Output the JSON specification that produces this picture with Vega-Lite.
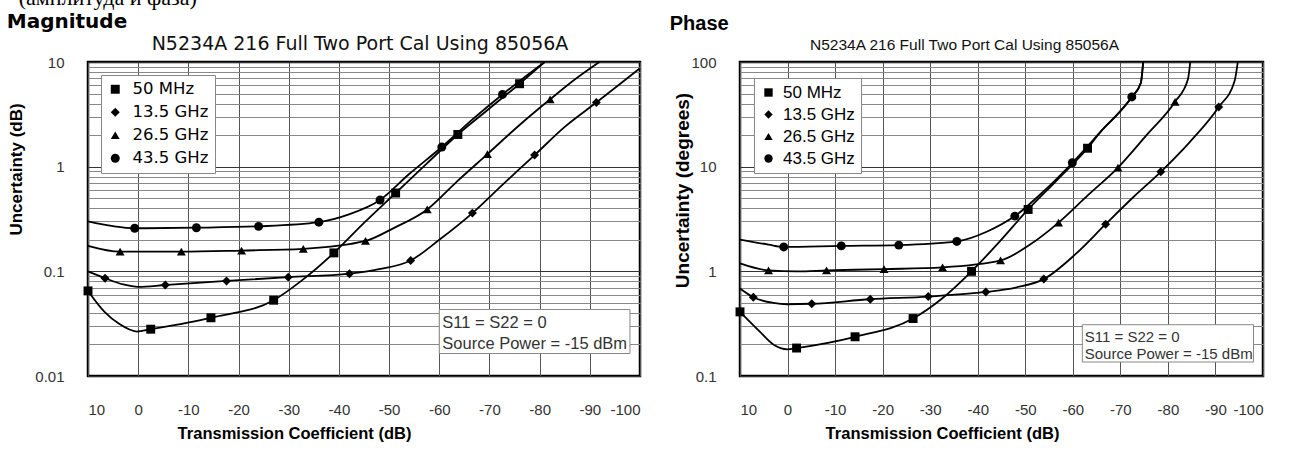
{
  "$schema": "https://vega.github.io/schema/vega-lite/v6.json",
  "background": "white",
  "padding": {"left": 5, "top": -14, "right": 5, "bottom": 5},
  "title": {"text": "(амплитуда и фаза)", "anchor": "start", "font": "Liberation Serif", "fontSize": 22, "fontWeight": "normal", "color": "black", "offset": 2, "dx": 13},
  "config": {
    "view": {"stroke": "black", "strokeWidth": 2.5},
    "font": "Liberation Sans",
    "legend": {"title": null}
  },
  "datasets": {
    "mag": [
      {"series": "50 MHz", "tc": 10, "u": 0.065, "m": 1},
      {"series": "50 MHz", "tc": 6.7, "u": 0.041, "m": 0},
      {"series": "50 MHz", "tc": 3.8, "u": 0.0315, "m": 0},
      {"series": "50 MHz", "tc": 0.3, "u": 0.0266, "m": 0},
      {"series": "50 MHz", "tc": -2.5, "u": 0.028, "m": 1},
      {"series": "50 MHz", "tc": -14.5, "u": 0.036, "m": 1},
      {"series": "50 MHz", "tc": -27, "u": 0.053, "m": 1},
      {"series": "50 MHz", "tc": -32.5, "u": 0.081, "m": 0},
      {"series": "50 MHz", "tc": -39, "u": 0.15, "m": 1},
      {"series": "50 MHz", "tc": -45, "u": 0.29, "m": 0},
      {"series": "50 MHz", "tc": -51.3, "u": 0.56, "m": 1},
      {"series": "50 MHz", "tc": -57.5, "u": 1.07, "m": 0},
      {"series": "50 MHz", "tc": -63.7, "u": 2.03, "m": 1},
      {"series": "50 MHz", "tc": -70, "u": 3.6, "m": 0},
      {"series": "50 MHz", "tc": -76, "u": 6.2, "m": 1},
      {"series": "50 MHz", "tc": -81, "u": 10, "m": 0},
      {"series": "13.5 GHz", "tc": 10, "u": 0.1, "m": 0},
      {"series": "13.5 GHz", "tc": 6.6, "u": 0.086, "m": 1},
      {"series": "13.5 GHz", "tc": 3, "u": 0.075, "m": 0},
      {"series": "13.5 GHz", "tc": 0, "u": 0.071, "m": 0},
      {"series": "13.5 GHz", "tc": -5.4, "u": 0.074, "m": 1},
      {"series": "13.5 GHz", "tc": -17.6, "u": 0.081, "m": 1},
      {"series": "13.5 GHz", "tc": -29.9, "u": 0.088, "m": 1},
      {"series": "13.5 GHz", "tc": -42.1, "u": 0.095, "m": 1},
      {"series": "13.5 GHz", "tc": -48, "u": 0.105, "m": 0},
      {"series": "13.5 GHz", "tc": -54.3, "u": 0.127, "m": 1},
      {"series": "13.5 GHz", "tc": -60, "u": 0.2, "m": 0},
      {"series": "13.5 GHz", "tc": -66.6, "u": 0.36, "m": 1},
      {"series": "13.5 GHz", "tc": -73, "u": 0.7, "m": 0},
      {"series": "13.5 GHz", "tc": -79, "u": 1.29, "m": 1},
      {"series": "13.5 GHz", "tc": -85, "u": 2.4, "m": 0},
      {"series": "13.5 GHz", "tc": -91.3, "u": 4.1, "m": 1},
      {"series": "13.5 GHz", "tc": -100, "u": 8.7, "m": 0},
      {"series": "26.5 GHz", "tc": 10, "u": 0.175, "m": 0},
      {"series": "26.5 GHz", "tc": 3.6, "u": 0.154, "m": 1},
      {"series": "26.5 GHz", "tc": -8.6, "u": 0.154, "m": 1},
      {"series": "26.5 GHz", "tc": -20.6, "u": 0.158, "m": 1},
      {"series": "26.5 GHz", "tc": -32.9, "u": 0.164, "m": 1},
      {"series": "26.5 GHz", "tc": -45.3, "u": 0.195, "m": 1},
      {"series": "26.5 GHz", "tc": -51, "u": 0.26, "m": 0},
      {"series": "26.5 GHz", "tc": -57.6, "u": 0.39, "m": 1},
      {"series": "26.5 GHz", "tc": -63.5, "u": 0.72, "m": 0},
      {"series": "26.5 GHz", "tc": -69.6, "u": 1.32, "m": 1},
      {"series": "26.5 GHz", "tc": -76, "u": 2.5, "m": 0},
      {"series": "26.5 GHz", "tc": -82.1, "u": 4.4, "m": 1},
      {"series": "26.5 GHz", "tc": -87, "u": 6.8, "m": 0},
      {"series": "26.5 GHz", "tc": -91.9, "u": 10, "m": 0},
      {"series": "43.5 GHz", "tc": 10, "u": 0.3, "m": 0},
      {"series": "43.5 GHz", "tc": 5, "u": 0.27, "m": 0},
      {"series": "43.5 GHz", "tc": 0.7, "u": 0.258, "m": 1},
      {"series": "43.5 GHz", "tc": -11.6, "u": 0.261, "m": 1},
      {"series": "43.5 GHz", "tc": -24, "u": 0.269, "m": 1},
      {"series": "43.5 GHz", "tc": -36, "u": 0.295, "m": 1},
      {"series": "43.5 GHz", "tc": -42, "u": 0.35, "m": 0},
      {"series": "43.5 GHz", "tc": -48.2, "u": 0.48, "m": 1},
      {"series": "43.5 GHz", "tc": -54, "u": 0.85, "m": 0},
      {"series": "43.5 GHz", "tc": -60.5, "u": 1.54, "m": 1},
      {"series": "43.5 GHz", "tc": -66.5, "u": 2.8, "m": 0},
      {"series": "43.5 GHz", "tc": -72.6, "u": 4.9, "m": 1},
      {"series": "43.5 GHz", "tc": -81, "u": 10, "m": 0}
    ],
    "phase": [
      {"series": "50 MHz", "tc": 10, "u": 0.41, "m": 1},
      {"series": "50 MHz", "tc": 6, "u": 0.27, "m": 0},
      {"series": "50 MHz", "tc": 3, "u": 0.2, "m": 0},
      {"series": "50 MHz", "tc": 0, "u": 0.18, "m": 0},
      {"series": "50 MHz", "tc": -1.9, "u": 0.185, "m": 1},
      {"series": "50 MHz", "tc": -14.2, "u": 0.237, "m": 1},
      {"series": "50 MHz", "tc": -26.4, "u": 0.354, "m": 1},
      {"series": "50 MHz", "tc": -32.5, "u": 0.55, "m": 0},
      {"series": "50 MHz", "tc": -38.7, "u": 1.0, "m": 1},
      {"series": "50 MHz", "tc": -44.5, "u": 1.9, "m": 0},
      {"series": "50 MHz", "tc": -50.6, "u": 3.9, "m": 1},
      {"series": "50 MHz", "tc": -57, "u": 7.7, "m": 0},
      {"series": "50 MHz", "tc": -63.1, "u": 15, "m": 1},
      {"series": "50 MHz", "tc": -66, "u": 22, "m": 0},
      {"series": "50 MHz", "tc": -69.5, "u": 32, "m": 0},
      {"series": "50 MHz", "tc": -72.4, "u": 46, "m": 0},
      {"series": "50 MHz", "tc": -74.3, "u": 63, "m": 0},
      {"series": "50 MHz", "tc": -74.8, "u": 100, "m": 0},
      {"series": "13.5 GHz", "tc": 10, "u": 0.685, "m": 0},
      {"series": "13.5 GHz", "tc": 7.2, "u": 0.565, "m": 1},
      {"series": "13.5 GHz", "tc": 3, "u": 0.5, "m": 0},
      {"series": "13.5 GHz", "tc": 0.1, "u": 0.485, "m": 0},
      {"series": "13.5 GHz", "tc": -5.1, "u": 0.49, "m": 1},
      {"series": "13.5 GHz", "tc": -17.4, "u": 0.541, "m": 1},
      {"series": "13.5 GHz", "tc": -29.6, "u": 0.574, "m": 1},
      {"series": "13.5 GHz", "tc": -41.7, "u": 0.635, "m": 1},
      {"series": "13.5 GHz", "tc": -48, "u": 0.7, "m": 0},
      {"series": "13.5 GHz", "tc": -53.9, "u": 0.843, "m": 1},
      {"series": "13.5 GHz", "tc": -60.5, "u": 1.45, "m": 0},
      {"series": "13.5 GHz", "tc": -66.9, "u": 2.82, "m": 1},
      {"series": "13.5 GHz", "tc": -72.7, "u": 5.1, "m": 0},
      {"series": "13.5 GHz", "tc": -78.5, "u": 8.93, "m": 1},
      {"series": "13.5 GHz", "tc": -84.5, "u": 17, "m": 0},
      {"series": "13.5 GHz", "tc": -90.7, "u": 37.2, "m": 1},
      {"series": "13.5 GHz", "tc": -94, "u": 65, "m": 0},
      {"series": "13.5 GHz", "tc": -94.7, "u": 100, "m": 0},
      {"series": "26.5 GHz", "tc": 10, "u": 1.19, "m": 0},
      {"series": "26.5 GHz", "tc": 4, "u": 1.02, "m": 1},
      {"series": "26.5 GHz", "tc": -2, "u": 1.0, "m": 0},
      {"series": "26.5 GHz", "tc": -8.2, "u": 1.02, "m": 1},
      {"series": "26.5 GHz", "tc": -20.3, "u": 1.05, "m": 1},
      {"series": "26.5 GHz", "tc": -32.6, "u": 1.09, "m": 1},
      {"series": "26.5 GHz", "tc": -44.8, "u": 1.27, "m": 1},
      {"series": "26.5 GHz", "tc": -51, "u": 1.8, "m": 0},
      {"series": "26.5 GHz", "tc": -57, "u": 2.92, "m": 1},
      {"series": "26.5 GHz", "tc": -63.3, "u": 5.4, "m": 0},
      {"series": "26.5 GHz", "tc": -69.5, "u": 9.8, "m": 1},
      {"series": "26.5 GHz", "tc": -75.5, "u": 20, "m": 0},
      {"series": "26.5 GHz", "tc": -81.5, "u": 41.7, "m": 1},
      {"series": "26.5 GHz", "tc": -84.2, "u": 68, "m": 0},
      {"series": "26.5 GHz", "tc": -84.7, "u": 100, "m": 0},
      {"series": "43.5 GHz", "tc": 10, "u": 2.01, "m": 0},
      {"series": "43.5 GHz", "tc": 4, "u": 1.8, "m": 0},
      {"series": "43.5 GHz", "tc": 0.8, "u": 1.71, "m": 1},
      {"series": "43.5 GHz", "tc": -11.3, "u": 1.75, "m": 1},
      {"series": "43.5 GHz", "tc": -23.4, "u": 1.78, "m": 1},
      {"series": "43.5 GHz", "tc": -35.6, "u": 1.93, "m": 1},
      {"series": "43.5 GHz", "tc": -42, "u": 2.4, "m": 0},
      {"series": "43.5 GHz", "tc": -47.8, "u": 3.37, "m": 1},
      {"series": "43.5 GHz", "tc": -54, "u": 5.9, "m": 0},
      {"series": "43.5 GHz", "tc": -59.9, "u": 10.9, "m": 1},
      {"series": "43.5 GHz", "tc": -66, "u": 22, "m": 0},
      {"series": "43.5 GHz", "tc": -72.4, "u": 46.4, "m": 1},
      {"series": "43.5 GHz", "tc": -74.3, "u": 63, "m": 0},
      {"series": "43.5 GHz", "tc": -74.8, "u": 100, "m": 0}
    ],
    "magBox": [{"tc": -60, "tc2": -98, "u": 0.0432, "u2": 0.0164}],
    "magNote": [
      {"tc": -60.6, "u": 0.0323, "txt": "S11 = S22 = 0"},
      {"tc": -60.6, "u": 0.0204, "txt": "Source Power = -15 dBm"}
    ],
    "phBox": [{"tc": -62, "tc2": -98, "u": 0.309, "u2": 0.136}],
    "phNote": [
      {"tc": -62.5, "u": 0.234, "txt": "S11 = S22 = 0"},
      {"tc": -62.5, "u": 0.164, "txt": "Source Power = -15 dBm"}
    ]
  },
  "spacing": 24,
  "hconcat": [
    {
      "title": {"text": "Magnitude", "anchor": "start", "frame": "bounds", "font": "DejaVu Sans", "fontSize": 20, "fontWeight": "bold", "color": "black", "offset": 2, "dx": 1},
      "vconcat": [
        {
          "title": {"text": "N5234A 216 Full Two Port Cal Using 85056A", "anchor": "middle", "frame": "group", "font": "DejaVu Sans", "fontSize": 19, "fontWeight": "normal", "color": "#111", "offset": 1, "dx": -4},
          "width": 552,
          "height": 314,
          "encoding": {
            "x": {"field": "tc", "type": "quantitative",
              "scale": {"domain": [-100, 10], "reverse": true, "nice": false, "zero": false},
              "axis": {"values": [10, 0, -10, -20, -30, -40, -50, -60, -70, -80, -90, -100],
                "labelExpr": "toString(datum.value)",
                "grid": true, "gridColor": "#555", "gridWidth": 1, "ticks": false, "domain": false,
                "labelPadding": 26, "labelFont": "Liberation Sans", "labelFontSize": 15, "labelColor": "#333",
                "title": "Transmission Coefficient (dB)", "titleFont": "Liberation Sans", "titleFontSize": 16.5, "titleFontWeight": "bold", "titleColor": "black",
                "titlePadding": 8, "titleX": 206}},
            "y": {"field": "u", "type": "quantitative",
              "scale": {"type": "log", "domain": [0.01, 10], "nice": false},
              "axis": {"values": [0.01, 0.02, 0.03, 0.04, 0.05, 0.06, 0.07, 0.08, 0.09, 0.1, 0.2, 0.3, 0.4, 0.5, 0.6, 0.7, 0.8, 0.9, 1, 2, 3, 4, 5, 6, 7, 8, 9, 10],
                "labelExpr": "abs(log(datum.value)/LN10 - round(log(datum.value)/LN10)) < 0.001 ? toString(datum.value) : ''",
                "grid": true,
                "gridColor": {"condition": {"test": "abs(log(datum.value)/LN10 - round(log(datum.value)/LN10)) < 0.001", "value": "#333"}, "value": "#888"},
                "gridWidth": 1.2,
                "ticks": false, "domain": false,
                "labelPadding": 24, "labelFont": "Liberation Sans", "labelFontSize": 15, "labelColor": "#333",
                "title": "Uncertainty (dB)", "titleFont": "Liberation Sans", "titleFontSize": 17, "titleFontWeight": "bold", "titleColor": "black",
                "titleX": -72, "titleY": 107, "titleAngle": 270, "titleAlign": "center", "titleBaseline": "middle"}}
          },
          "layer": [
            {
              "data": {"name": "mag"},
              "mark": {"type": "line", "interpolate": "monotone", "color": "black", "strokeWidth": 1.8},
              "encoding": {"detail": {"field": "series"}, "order": {"field": "tc", "sort": "descending"}}
            },
            {
              "data": {"name": "mag"},
              "transform": [{"filter": "datum.m == 1"}],
              "mark": {"type": "point", "filled": true, "opacity": 1, "color": "black"},
              "encoding": {
                "shape": {"field": "series", "type": "nominal",
                  "scale": {"domain": ["50 MHz", "13.5 GHz", "26.5 GHz", "43.5 GHz"], "range": ["square", "diamond", "triangle-up", "circle"]},
                  "legend": {"orient": "none", "legendX": 13, "legendY": 13, "title": null,
                    "strokeColor": "#888", "fillColor": "white", "padding": 6,
                    "labelFont": "DejaVu Sans", "labelFontSize": 16.5, "labelColor": "black",
                    "symbolSize": 80, "symbolFillColor": "black", "symbolStrokeColor": "black", "symbolOpacity": 1,
                    "rowPadding": 6, "labelOffset": 9}},
                "size": {"value": 80}
              }
            },
            {
              "data": {"name": "magBox"},
              "mark": {"type": "rect", "fill": "white", "stroke": "#888", "strokeWidth": 1},
              "encoding": {"x2": {"field": "tc2"}, "y2": {"field": "u2"}}
            },
            {
              "data": {"name": "magNote"},
              "mark": {"type": "text", "align": "left", "baseline": "middle", "font": "Liberation Sans", "fontSize": 16.5, "color": "#333"},
              "encoding": {"text": {"field": "txt"}}
            }
          ]
        }
      ]
    },
    {
      "title": {"text": "Phase", "anchor": "start", "frame": "bounds", "font": "Liberation Sans", "fontSize": 20, "fontWeight": "bold", "color": "black", "offset": 2, "dx": -2},
      "vconcat": [
        {
          "title": {"text": "N5234A 216 Full Two Port Cal Using 85056A", "anchor": "middle", "frame": "group", "font": "Liberation Sans", "fontSize": 15.5, "fontWeight": "normal", "color": "#111", "offset": 2, "dx": -37},
          "width": 523,
          "height": 314,
          "encoding": {
            "x": {"field": "tc", "type": "quantitative",
              "scale": {"domain": [-100, 10], "reverse": true, "nice": false, "zero": false},
              "axis": {"values": [10, 0, -10, -20, -30, -40, -50, -60, -70, -80, -90, -100],
                "labelExpr": "toString(datum.value)",
                "grid": true, "gridColor": "#555", "gridWidth": 1, "ticks": false, "domain": false,
                "labelPadding": 26, "labelFont": "Liberation Sans", "labelFontSize": 15, "labelColor": "#333",
                "title": "Transmission Coefficient (dB)", "titleFont": "Liberation Sans", "titleFontSize": 16.5, "titleFontWeight": "bold", "titleColor": "black",
                "titlePadding": 8, "titleX": 202}},
            "y": {"field": "u", "type": "quantitative",
              "scale": {"type": "log", "domain": [0.1, 100], "nice": false},
              "axis": {"values": [0.1, 0.2, 0.3, 0.4, 0.5, 0.6, 0.7, 0.8, 0.9, 1, 2, 3, 4, 5, 6, 7, 8, 9, 10, 20, 30, 40, 50, 60, 70, 80, 90, 100],
                "labelExpr": "abs(log(datum.value)/LN10 - round(log(datum.value)/LN10)) < 0.001 ? toString(datum.value) : ''",
                "grid": true,
                "gridColor": {"condition": {"test": "abs(log(datum.value)/LN10 - round(log(datum.value)/LN10)) < 0.001", "value": "#333"}, "value": "#888"},
                "gridWidth": 1.2,
                "ticks": false, "domain": false,
                "labelPadding": 24, "labelFont": "Liberation Sans", "labelFontSize": 15, "labelColor": "#333",
                "title": "Uncertainty (degrees)", "titleFont": "Liberation Sans", "titleFontSize": 19, "titleFontWeight": "bold", "titleColor": "black",
                "titleX": -58, "titleY": 128, "titleAngle": 270, "titleAlign": "center", "titleBaseline": "middle"}}
          },
          "layer": [
            {
              "data": {"name": "phase"},
              "mark": {"type": "line", "interpolate": "monotone", "color": "black", "strokeWidth": 1.8},
              "encoding": {"detail": {"field": "series"}, "order": {"field": "tc", "sort": "descending"}}
            },
            {
              "data": {"name": "phase"},
              "transform": [{"filter": "datum.m == 1"}],
              "mark": {"type": "point", "filled": true, "opacity": 1, "color": "black"},
              "encoding": {
                "shape": {"field": "series", "type": "nominal",
                  "scale": {"domain": ["50 MHz", "13.5 GHz", "26.5 GHz", "43.5 GHz"], "range": ["square", "diamond", "triangle-up", "circle"]},
                  "legend": {"orient": "none", "legendX": 14, "legendY": 16, "title": null,
                    "strokeColor": "#888", "fillColor": "white", "padding": 6,
                    "labelFont": "Liberation Sans", "labelFontSize": 17, "labelColor": "black",
                    "symbolSize": 70, "symbolFillColor": "black", "symbolStrokeColor": "black", "symbolOpacity": 1,
                    "rowPadding": 4, "labelOffset": 6}},
                "size": {"value": 80}
              }
            },
            {
              "data": {"name": "phBox"},
              "mark": {"type": "rect", "fill": "white", "stroke": "#888", "strokeWidth": 1},
              "encoding": {"x2": {"field": "tc2"}, "y2": {"field": "u2"}}
            },
            {
              "data": {"name": "phNote"},
              "mark": {"type": "text", "align": "left", "baseline": "middle", "font": "Liberation Sans", "fontSize": 15, "color": "#333"},
              "encoding": {"text": {"field": "txt"}}
            }
          ]
        }
      ]
    }
  ],
  "resolve": {"legend": {"shape": "independent"}}
}
